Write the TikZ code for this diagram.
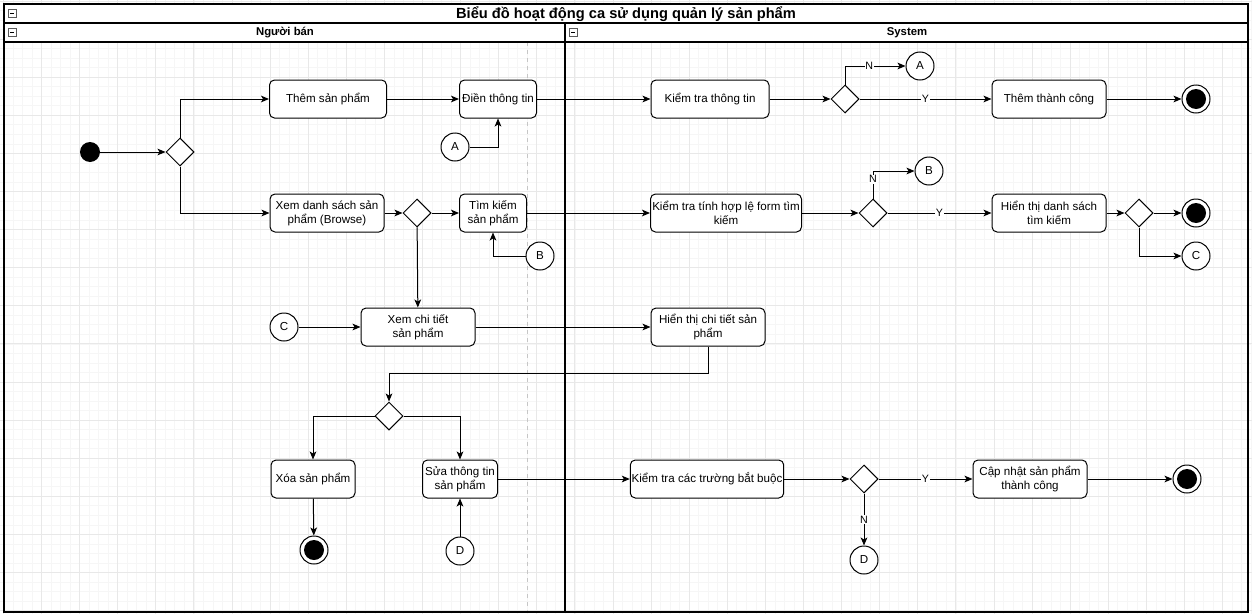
\documentclass[tikz,border=0pt]{standalone}
\usepackage{fontspec}
\setmainfont{Liberation Sans}
\usetikzlibrary{shapes.geometric, arrows.meta, positioning, calc}

\begin{document}
\begin{tikzpicture}[
  x=0.75pt, y=-0.75pt,
  action/.style  = {draw, rectangle, rounded corners=3.75pt,
                    fill=white, line width=0.75pt,
                    minimum height=28.5pt, inner sep=1pt,
                    align=center, font=\fontsize{8.7}{10.5}\selectfont},
  choice/.style  = {draw, diamond, fill=white, line width=0.75pt,
                    minimum width=21pt, minimum height=21pt, inner sep=0pt},
  conn/.style    = {draw, circle, fill=white, line width=0.75pt,
                    minimum size=21pt, inner sep=0pt,
                    font=\fontsize{8.7}{10.5}\selectfont},
  initial/.style = {circle, fill=black, minimum size=15pt, inner sep=0pt},
  final/.style   = {draw, circle, fill=white, line width=0.75pt,
                    minimum size=21pt, inner sep=0pt,
                    path picture={\fill[black] (path picture bounding box.center) circle (7.5pt);}},
  arr/.style     = {-{Stealth[length=6pt, width=5pt, inset=1.5pt]}, line width=0.75pt},
  guard/.style   = {font=\fontsize{8}{9}\selectfont, fill=white, inner sep=0.5pt},
  minorgrid/.style = {draw=gray!7, line width=0.4pt},
  majorgrid/.style = {draw=gray!18, line width=0.5pt},
  lane/.style    = {line width=1.1pt},
  hdr/.style     = {font=\fontsize{8.5}{10}\selectfont\bfseries}
]
\useasboundingbox (0,0) rectangle (1252,614);

%── Lưới nền ──────────────────────────────────────────────────────────────
\foreach \i in {0,...,131} \draw[minorgrid] ({3.3+9.525*\i},0) -- ++(0,614);
\foreach \i in {0,...,65}  \draw[minorgrid] (0,{0.9+9.525*\i}) -- ++(1252,0);
\foreach \i in {0,...,32}  \draw[majorgrid] ({3.3+38.1*\i},0) -- ++(0,614);
\foreach \i in {0,...,16}  \draw[majorgrid] (0,{0.9+38.1*\i}) -- ++(1252,0);

%── Khung, tiêu đề, làn ───────────────────────────────────────────────────
\fill[white] (4,4) rectangle (1248,42);
\draw[gray!45, dashed, line width=0.5pt] (527,42) -- (527,612);
\draw[lane] (4,4) rectangle (1248,612);
\draw[lane] (4,23) -- (1248,23);
\draw[lane] (4,42) -- (1248,42);
\draw[lane] (565,23) -- (565,612);
\foreach \mx/\my in {8/9, 8/28, 569/28} {
  \draw[gray!70!black, line width=0.5pt] (\mx,\my) rectangle ++(8,8);
  \draw[line width=0.6pt] (\mx+2,\my+4) -- ++(4,0);
}
\node[font=\fontsize{11}{13}\selectfont\bfseries] (title) at (626,14)
  {Biểu đồ hoạt động ca sử dụng quản lý sản phẩm};
\node[hdr] (seller) at (285,33) {Người bán};
\node[hdr] (system) at (907,33) {System};

%── Người bán ─────────────────────────────────────────────────────────────
\node[initial] (start) at (90,152) {};
\node[choice] (d_start) at (180,152) {};
\node[action, minimum width=87.75pt] (add) at (328,99) {Thêm sản phẩm};
\node[action, minimum width=57.75pt] (fill) at (498,99) {Điền thông tin};
\node[conn] (a_in) at (455,147) {A};
\node[action, minimum width=85.5pt] (browse) at (327,213)
  {Xem danh sách sản\\phẩm (Browse)};
\node[choice] (d_browse) at (417,213) {};
\node[action, minimum width=50.25pt] (search) at (493,213) {Tìm kiếm\\sản phẩm};
\node[conn] (b_in) at (540,256) {B};
\node[conn] (c_in) at (284,327) {C};
\node[action, minimum width=85.5pt] (detail) at (418,327) {Xem chi tiết\\sản phẩm};
\node[choice] (d_detail) at (389,416) {};
\node[action, minimum width=63pt] (delete) at (313,479) {Xóa sản phẩm};
\node[final] (end_del) at (314,550) {};
\node[action, minimum width=56.25pt] (edit) at (460,479) {Sửa thông tin\\sản phẩm};
\node[conn] (d_in) at (460,551) {D};

%── System ────────────────────────────────────────────────────────────────
\node[action, minimum width=88.5pt] (check) at (710,99) {Kiểm tra thông tin};
\node[choice] (d_check) at (845,99) {};
\node[conn] (a_out) at (920,66) {A};
\node[action, minimum width=85.5pt] (added) at (1049,99) {Thêm thành công};
\node[final] (end_add) at (1196,99) {};

\node[action, minimum width=113.25pt] (validate) at (726,213)
  {Kiểm tra tính hợp lệ form tìm\\kiếm};
\node[choice] (d_valid) at (873,213) {};
\node[conn] (b_out) at (929,171) {B};
\node[action, minimum width=85.5pt] (results) at (1049,213)
  {Hiển thị danh sách\\tìm kiếm};
\node[choice] (d_results) at (1139,213) {};
\node[final] (end_search) at (1196,213) {};
\node[conn] (c_out) at (1196,256) {C};

\node[action, minimum width=85.5pt] (show) at (708,327)
  {Hiển thị chi tiết sản\\phẩm};

\node[action, minimum width=114pt] (required) at (707,479)
  {Kiểm tra các trường bắt buộc};
\node[choice] (d_req) at (864,479) {};
\node[action, minimum width=85.5pt] (updated) at (1030,479)
  {Cập nhật sản phẩm\\thành công};
\node[final] (end_upd) at (1187,479) {};
\node[conn] (d_out) at (864,560) {D};

%── Mũi tên ───────────────────────────────────────────────────────────────
\draw[arr] (start) -- (d_start);
\draw[arr] (d_start.north) |- (add);
\draw[arr] (d_start.south) |- (browse);
\draw[arr] (add) -- (fill);
\draw[arr] (a_in) -| (fill);
\draw[arr] (fill) -- (check);

\draw[arr] (check) -- (d_check);
\draw[arr] (d_check) -- node[guard] {Y} (added);
\draw[arr] (d_check.north) |- node[guard, pos=0.7] {N} (a_out);
\draw[arr] (added) -- (end_add);

\draw[arr] (browse) -- (d_browse);
\draw[arr] (d_browse) -- (search);
\draw[arr] (b_in) -| (search);
\draw[arr] (d_browse) -- (detail);
\draw[arr] (search) -- (validate);

\draw[arr] (validate) -- (d_valid);
\draw[arr] (d_valid) -- node[guard] {Y} (results);
\draw[arr] (d_valid.north) |- node[guard, pos=0.35] {N} (b_out);
\draw[arr] (results) -- (d_results);
\draw[arr] (d_results) -- (end_search);
\draw[arr] (d_results.south) |- (c_out);

\draw[arr] (c_in) -- (detail);
\draw[arr] (detail) -- (show);
\draw[arr] (show.south) |- ($(d_detail.north)+(0,-28)$) -- (d_detail.north);
\draw[arr] (d_detail.west) -| (delete);
\draw[arr] (d_detail.east) -| (edit);
\draw[arr] (delete) -- (end_del);
\draw[arr] (d_in) -- (edit);

\draw[arr] (edit) -- (required);
\draw[arr] (required) -- (d_req);
\draw[arr] (d_req) -- node[guard] {Y} (updated);
\draw[arr] (d_req) -- node[guard] {N} (d_out);
\draw[arr] (updated) -- (end_upd);

\end{tikzpicture}
\end{document}
